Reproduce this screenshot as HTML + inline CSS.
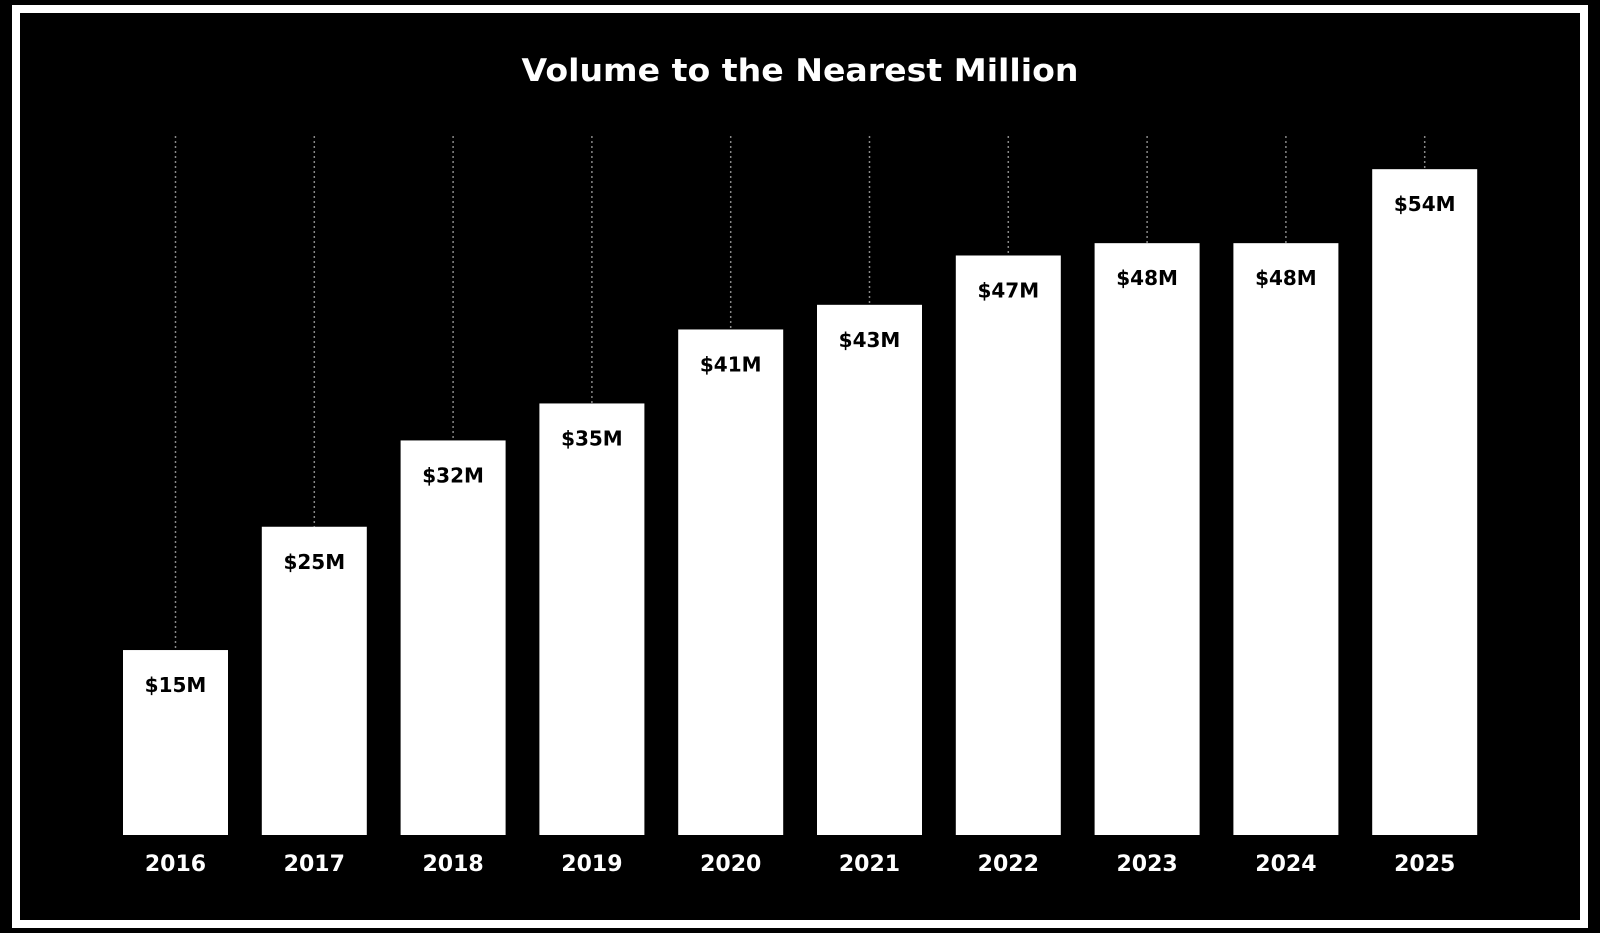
<!DOCTYPE html>
<html><head><meta charset="utf-8"><style>
html,body{margin:0;padding:0;background:#000;}
svg{display:block;}
text{font-family:"DejaVu Sans","Liberation Sans",sans-serif;font-weight:bold;}
</style></head><body>
<svg width="1600" height="933" viewBox="0 0 1600 933" xmlns="http://www.w3.org/2000/svg">
<rect width="1600" height="933" fill="#000"/>
<rect x="16" y="9" width="1568" height="915" fill="none" stroke="#fff" stroke-width="8"/>
<text x="800" y="81" fill="#fff" font-size="31" text-anchor="middle" textLength="557" lengthAdjust="spacingAndGlyphs">Volume to the Nearest Million</text>
<g id="bars"></g>
</svg>
<script>
const vals=[15,25,32,35,41,43,47,48,48,54];
const g=document.getElementById('bars');
let h='';
vals.forEach((v,i)=>{
 const cx=175.5+138.8*i;const top=835-v*12.33;
 h+=`<line x1="${cx}" y1="136" x2="${cx}" y2="${top}" stroke="#888" stroke-width="1.5" stroke-dasharray="2,3"/>`;
 h+=`<rect x="${cx-52.5}" y="${top}" width="105" height="${835-top}" fill="#fff"/>`;
 h+=`<text x="${cx}" y="${top+42}" fill="#000" font-size="20" text-anchor="middle">$${v}M</text>`;
 h+=`<text x="${cx}" y="871" fill="#fff" font-size="22" text-anchor="middle">${2016+i}</text>`;
});
g.innerHTML=h;
</script>
</body></html>
